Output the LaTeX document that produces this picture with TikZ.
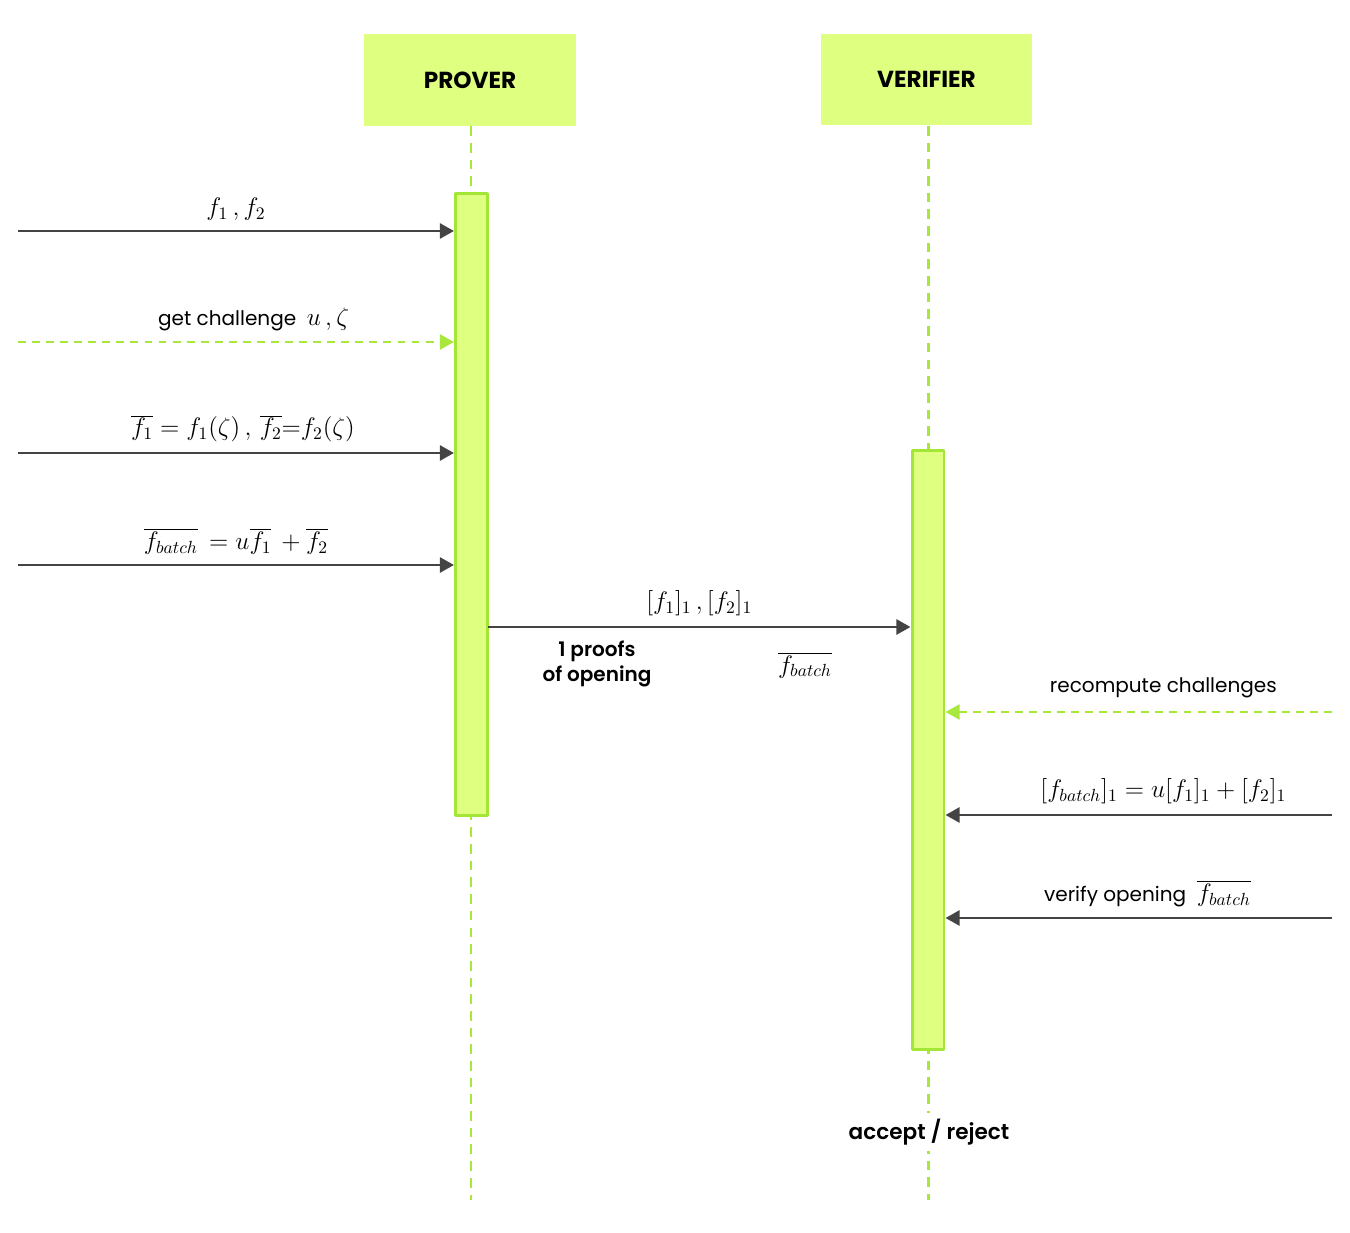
\documentclass[tikz,border=0pt]{standalone}
\usepackage{fontspec}
\setmainfont{Poppins}[BoldFont={Poppins SemiBold}]
\newfontfamily\headfont{Poppins Bold}
\usetikzlibrary{arrows.meta}
\definecolor{boxfill}{HTML}{DFFF80}
\definecolor{actline}{HTML}{A3E635}
\definecolor{lifeline}{HTML}{A8E83C}
\definecolor{msgline}{HTML}{444444}
\newcommand\txt{\fontsize{11.4}{14}\selectfont}
\tikzset{
  party/.style={fill=boxfill, minimum width=4.24cm, minimum height=1.84cm, font=\headfont\fontsize{13.2}{16}\selectfont},
  actbox/.style={fill=boxfill, draw=actline, line width=1.7pt, minimum width=0.64cm, inner sep=0pt},
  life/.style={lifeline, line width=1.7pt, dash pattern=on 5.5pt off 4pt},
  msg/.style={msgline, line width=1.6pt, ->},
  ret/.style={lifeline, line width=1.4pt, dash pattern=on 4.5pt off 3.5pt, ->},
  lbl/.style={text=black, font=\Large}
}
\begin{document}
\begin{tikzpicture}[x=0.02cm, y=-0.02cm, >={Triangle[length=8pt,width=8.5pt]}, line join=round]
  \useasboundingbox (0,0) rectangle (1350,1233);
  % parties
  \node[party] (prover) at (470,80) {PROVER};
  \node[party] (verifier) at (926.5,79.5) {VERIFIER};
  % lifelines
  \coordinate (pend) at (471,1200);
  \coordinate (vend) at (928,1200);
  \draw[life] (prover.south -| pend) -- (pend);
  \draw[life] (verifier.south -| vend) -- (vend);
  % activations
  \node[actbox, minimum height=12.46cm] (pact) at (471.5,504.5) {};
  \node[actbox, minimum height=12cm] (vact) at (928,750) {};
  % prover side
  \coordinate (m1) at (18,231);
  \coordinate (m2) at (18,342);
  \coordinate (m3) at (18,453);
  \coordinate (m4) at (18,565);
  \draw[msg] (m1) -- (m1 -| pact.west) node[lbl, midway, above=2pt]{$f_1\,,f_2$};
  \draw[ret] (m2) -- (m2 -| pact.west) node[lbl, midway, above=2pt, xshift=10pt]{\txt get challenge\ \ \Large$u\,,\zeta$};
  \draw[msg] (m3) -- (m3 -| pact.west) node[lbl, midway, above=2pt, xshift=4pt]{$\overline{f_1}=f_1(\zeta)\,,\,\overline{f_2}{=}f_2(\zeta)$};
  \draw[msg] (m4) -- (m4 -| pact.west) node[lbl, midway, above=2pt]{$\overline{f_{batch}}\,=u\overline{f_1}\,+\overline{f_2}$};
  % prover -> verifier
  \coordinate (m5) at (488,627);
  \draw[msg] (m5) -- (m5 -| vact.west) node[lbl, midway, above=2pt]{$[f_1]_1\,,[f_2]_1$};
  \node[font=\bfseries\txt, align=center] (proofs) at (597,664) {1 proofs\\of opening};
  \node[lbl] (fbatch) at (805,665) {$\overline{f_{batch}}$};
  % verifier side
  \coordinate (r1) at (1332,712);
  \coordinate (r2) at (1332,815);
  \coordinate (r3) at (1332,918);
  \draw[ret] (r1) -- (r1 -| vact.east) node[text=black, font=\txt, midway, above=4pt, xshift=14pt]{recompute challenges};
  \draw[msg] (r2) -- (r2 -| vact.east) node[lbl, midway, above=2pt, xshift=14pt]{$[f_{batch}]_1=u[f_1]_1+[f_2]_1$};
  \draw[msg] (r3) -- (r3 -| vact.east) node[lbl, midway, above=2pt, xshift=5pt]{\txt verify opening\ \ \Large$\overline{f_{batch}}$};
  \node[fill=white, font=\bfseries\fontsize{12.3}{15}\selectfont] (result) at (929,1132) {accept / reject};
\end{tikzpicture}
\end{document}
